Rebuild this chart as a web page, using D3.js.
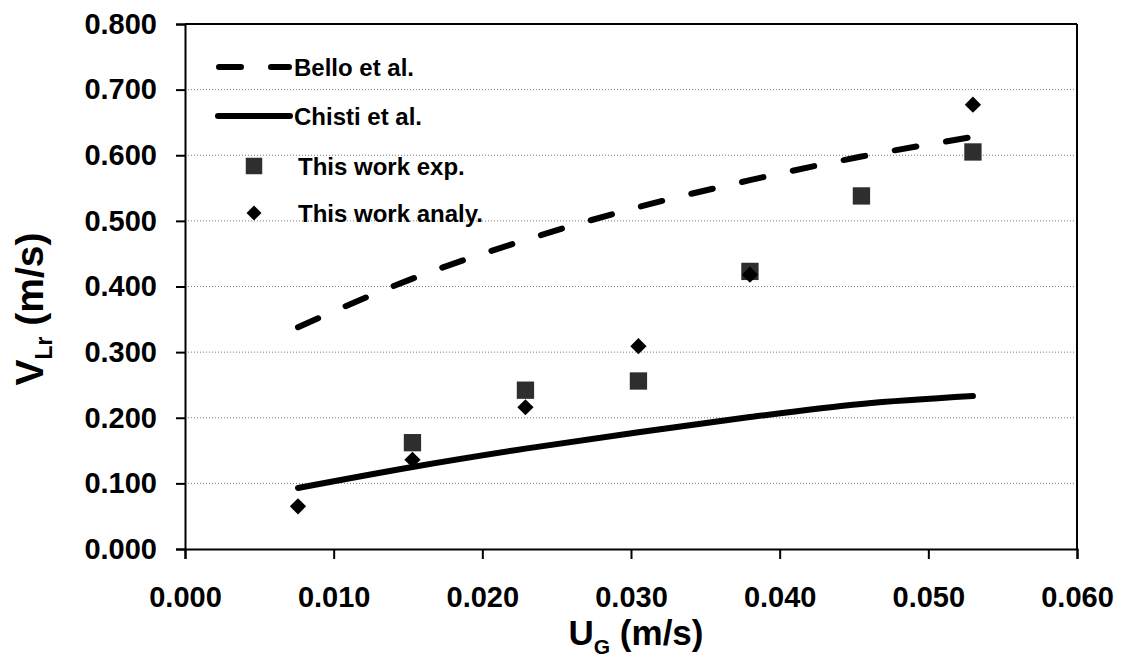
<!DOCTYPE html>
<html>
<head>
<meta charset="utf-8">
<script src="https://cdn.jsdelivr.net/npm/d3@7"></script>
<style>
  html, body { margin: 0; padding: 0; background: #fff; }
  svg { display: block; font-family: "Liberation Sans", Arial, sans-serif; font-weight: bold; }
</style>
</head>
<body>
<svg id="chart" width="1127" height="660"></svg>
<script>
// Superficial gas velocity U_G (m/s) and liquid circulation velocity V_Lr (m/s)
const ugExp = [0.0153, 0.0229, 0.0305, 0.0380, 0.0455, 0.0530];
const vlrExp = [0.162, 0.242, 0.256, 0.423, 0.538, 0.605];

const ugAnaly = [0.0076, 0.0153, 0.0229, 0.0305, 0.0380, 0.0530];
const vlrAnaly = [0.065, 0.136, 0.216, 0.309, 0.418, 0.677];

const ugModel = [0.0076, 0.0153, 0.0229, 0.0305, 0.0380, 0.0455, 0.0530];
const vlrBello = [0.338, 0.412, 0.471, 0.521, 0.562, 0.598, 0.628];
const vlrChisti = [0.093, 0.125, 0.153, 0.178, 0.201, 0.221, 0.233];

const xTicks = [0, 0.01, 0.02, 0.03, 0.04, 0.05, 0.06];
const yTicks = [0, 0.1, 0.2, 0.3, 0.4, 0.5, 0.6, 0.7, 0.8];

const legendLabels = ["Bello et al.", "Chisti et al.", "This work exp.", "This work analy."];

const svg = d3.select("#chart");
const x = d3.scaleLinear().domain([0, 0.06]).range([185, 1077]);
const y = d3.scaleLinear().domain([0, 0.8]).range([549, 24]);
const fmt = d3.format(".3f");

// dotted horizontal gridlines
svg.append("g")
  .selectAll("line")
  .data(yTicks.filter(v => v > 0 && v < 0.8))
  .join("line")
  .attr("x1", x(0)).attr("x2", x(0.06))
  .attr("y1", d => y(d)).attr("y2", d => y(d))
  .attr("stroke", "#7a7a7a")
  .attr("stroke-width", 1)
  .attr("stroke-dasharray", "1,2");

// plot-area frame (top and right)
svg.append("line").attr("x1", x(0)).attr("x2", x(0.06)).attr("y1", y(0.8)).attr("y2", y(0.8))
  .attr("stroke", "#000").attr("stroke-width", 2);
svg.append("line").attr("x1", x(0.06)).attr("x2", x(0.06)).attr("y1", y(0.8)).attr("y2", y(0))
  .attr("stroke", "#000").attr("stroke-width", 2);

// axes
const xAxis = svg.append("g")
  .attr("transform", `translate(0,${y(0)})`)
  .call(d3.axisBottom(x).tickValues(xTicks).tickFormat(fmt).tickSize(10).tickPadding(27));
const yAxis = svg.append("g")
  .attr("transform", `translate(${x(0)},0)`)
  .call(d3.axisLeft(y).tickValues(yTicks).tickFormat(fmt).tickSize(9).tickPadding(19));

[xAxis, yAxis].forEach(g => {
  g.select(".domain").attr("stroke", "#000").attr("stroke-width", 2);
  g.selectAll(".tick line").attr("stroke", "#000").attr("stroke-width", 2);
  g.selectAll(".tick text")
    .attr("fill", "#000")
    .style("font-family", "'Liberation Sans', Arial, sans-serif")
    .style("font-weight", "bold")
    .style("font-size", "29px");
});

// model curves
const line = d3.line()
  .x((d, i) => x(ugModel[i]))
  .y(d => y(d))
  .curve(d3.curveMonotoneX);

svg.append("path")
  .attr("d", line(vlrBello))
  .attr("fill", "none")
  .attr("stroke", "#000")
  .attr("stroke-width", 6)
  .attr("stroke-linecap", "round")
  .attr("stroke-dasharray", "22,30");

svg.append("path")
  .attr("d", line(vlrChisti))
  .attr("fill", "none")
  .attr("stroke", "#000")
  .attr("stroke-width", 6)
  .attr("stroke-linecap", "round");

// markers
const squarePath = d3.symbol(d3.symbolSquare, 300)();
const diamondPath = d3.symbol(d3.symbolSquare, 132)();

svg.append("g")
  .selectAll("path")
  .data(vlrExp)
  .join("path")
  .attr("d", squarePath)
  .attr("transform", (d, i) => `translate(${x(ugExp[i])},${y(d)})`)
  .attr("fill", "#2e2e2e");

svg.append("g")
  .selectAll("path")
  .data(vlrAnaly)
  .join("path")
  .attr("d", diamondPath)
  .attr("transform", (d, i) => `translate(${x(ugAnaly[i])},${y(d)}) rotate(45)`)
  .attr("fill", "#000");

// legend
const legendRows = [67, 116, 166, 213];
const lg = svg.append("g");
lg.append("line").attr("x1", 219).attr("x2", 289).attr("y1", legendRows[0]).attr("y2", legendRows[0])
  .attr("stroke", "#000").attr("stroke-width", 6).attr("stroke-linecap", "round")
  .attr("stroke-dasharray", "22,30");
lg.append("line").attr("x1", 218).attr("x2", 290).attr("y1", legendRows[1]).attr("y2", legendRows[1])
  .attr("stroke", "#000").attr("stroke-width", 6).attr("stroke-linecap", "round");
lg.append("path").attr("d", d3.symbol(d3.symbolSquare, 272)())
  .attr("transform", `translate(254,${legendRows[2]})`).attr("fill", "#2e2e2e");
lg.append("path").attr("d", d3.symbol(d3.symbolSquare, 112)())
  .attr("transform", `translate(254,${legendRows[3]}) rotate(45)`).attr("fill", "#000");

lg.selectAll("text")
  .data(legendLabels)
  .join("text")
  .attr("x", (d, i) => i < 2 ? 294 : 298)
  .attr("y", (d, i) => legendRows[i])
  .attr("dy", "0.36em")
  .attr("font-size", 24)
  .attr("fill", "#000")
  .text(d => d);

// axis titles
const xt = svg.append("text")
  .attr("x", 636).attr("y", 645)
  .attr("text-anchor", "middle")
  .attr("font-size", 35)
  .attr("fill", "#000");
xt.append("tspan").text("U");
xt.append("tspan").attr("font-size", 21).attr("dy", 9).text("G");
xt.append("tspan").attr("dy", -9).text(" (m/s)");

const yt = svg.append("text")
  .attr("transform", "translate(43,309) rotate(-90)")
  .attr("text-anchor", "middle")
  .attr("font-size", 39)
  .attr("fill", "#000");
yt.append("tspan").text("V");
yt.append("tspan").attr("font-size", 23).attr("dy", 9).text("Lr");
yt.append("tspan").attr("dy", -9).text(" (m/s)");
</script>
</body>
</html>
